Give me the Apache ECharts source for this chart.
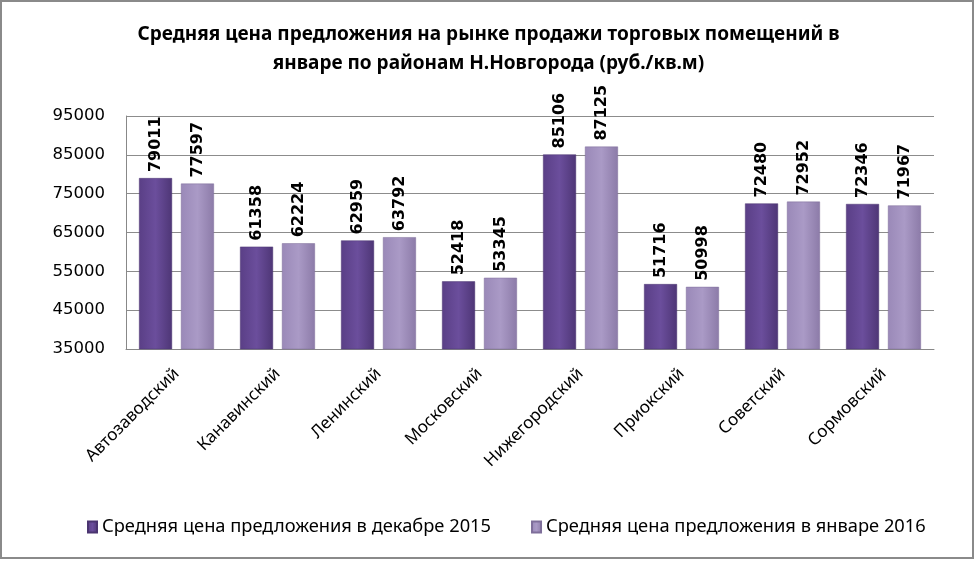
<!DOCTYPE html>
<html><head><meta charset="utf-8">
<script src="https://cdn.jsdelivr.net/npm/echarts@6/dist/echarts.min.js"></script>
<style>html,body{margin:0;padding:0;background:#fff}#c{width:977px;height:561px}</style>
</head><body><div id="c"></div>
<script>
var categories = ['Автозаводский','Канавинский','Ленинский','Московский','Нижегородский','Приокский','Советский','Сормовский'];
var dec2015 = [79011, 61358, 62959, 52418, 85106, 51716, 72480, 72346];
var jan2016 = [77597, 62224, 63792, 53345, 87125, 50998, 72952, 71967];
var seriesNames = ['Средняя цена предложения в декабре 2015','Средняя цена предложения в январе 2016'];
var titleText = 'Средняя цена предложения на рынке продажи торговых помещений в\nянваре по районам Н.Новгорода (руб./кв.м)';

var chart = echarts.init(document.getElementById('c'));
function grad(c0,c1,c2){
  return new echarts.graphic.LinearGradient(0,0,1,0,[{offset:0,color:c0},{offset:0.5,color:c1},{offset:1,color:c2}]);
}
var darkFill = grad('#5a3f86','#6b4e9c','#4e3676');
var lightFill = grad('#9a89b8','#aa9ac6','#8c7ba8');
var labelCfg = {show:true, position:'top', rotate:90, align:'left', verticalAlign:'middle', distance:6,
  fontFamily:'DejaVu Sans', fontWeight:'bold', fontSize:16, color:'#000'};
chart.setOption({
  animation:false,
  title:{text:titleText, left:'center', top:15, textStyle:{fontFamily:'Noto Sans', fontWeight:'bold', fontSize:19, lineHeight:29, color:'#000'}},
  graphic:[{type:'rect', shape:{x:1,y:1,width:972,height:557}, style:{fill:'none', stroke:'#8a8a8a', lineWidth:2}, silent:true}],
  grid:{left:126, right:43, top:116, bottom:212},
  legend:{top:513, left:82, itemWidth:9, itemHeight:11, itemGap:40, icon:'rect',
    textStyle:{fontFamily:'Noto Sans', fontSize:18.3, color:'#000'}, data:seriesNames},
  xAxis:{type:'category', data:categories,
    axisLine:{lineStyle:{color:'#888'}}, axisTick:{show:false},
    axisLabel:{rotate:45, interval:0, fontFamily:'Noto Sans', fontSize:17, color:'#000', margin:22}},
  yAxis:{type:'value', min:35000, max:95000, interval:10000,
    axisLine:{show:true, lineStyle:{color:'#888'}}, axisTick:{show:false},
    splitLine:{lineStyle:{color:'#8c8c8c'}},
    axisLabel:{fontFamily:'DejaVu Sans', fontSize:16.5, color:'#000', margin:21, formatter:function(v){return String(v);}}},
  series:[
    {name:seriesNames[0], type:'bar', data:dec2015, barWidth:33, barGap:'27%',
     itemStyle:{color:darkFill, borderColor:'#4a3470', borderWidth:0.5}, label:labelCfg},
    {name:seriesNames[1], type:'bar', data:jan2016, barWidth:33,
     itemStyle:{color:lightFill, borderColor:'#7e6e9a', borderWidth:0.5}, label:labelCfg}
  ]
});
</script></body></html>
